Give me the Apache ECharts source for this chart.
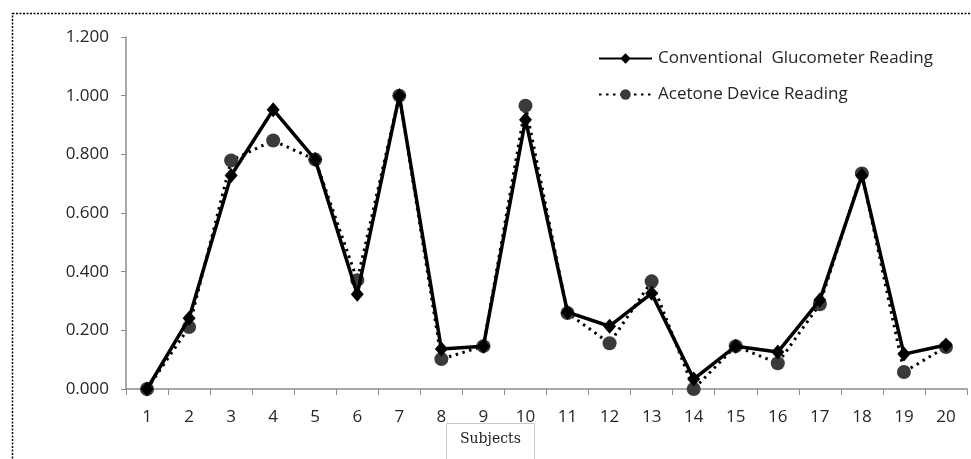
<!DOCTYPE html>
<html>
<head>
<meta charset="utf-8">
<script src="https://cdn.jsdelivr.net/npm/echarts@6/dist/echarts.min.js"></script>
<style>
html,body{margin:0;padding:0;background:#fff;}
#chart{width:971px;height:459px;}
</style>
</head>
<body>
<div id="chart"></div>
<script>
const categories = ['1','2','3','4','5','6','7','8','9','10','11','12','13','14','15','16','17','18','19','20'];
const conventional = [0.000,0.241,0.728,0.952,0.782,0.323,1.000,0.136,0.146,0.918,0.262,0.214,0.326,0.034,0.146,0.126,0.303,0.728,0.119,0.150];
const acetone = [0.000,0.211,0.779,0.847,0.782,0.371,1.000,0.102,0.146,0.966,0.259,0.156,0.367,0.000,0.146,0.088,0.289,0.735,0.058,0.143];
const yTicks = [0, 0.2, 0.4, 0.6, 0.8, 1.0, 1.2];
const seriesNames = ['Conventional  Glucometer Reading', 'Acetone Device Reading'];
const xAxisTitle = 'Subjects';

const font = 'Open Sans';
const chart = echarts.init(document.getElementById('chart'), null, {renderer:'canvas'});
chart.setOption({
  animation:false,
  backgroundColor:'#fff',
  title:{
    text:xAxisTitle,
    left:446, top:423,
    padding:[9,14,30,14],
    backgroundColor:'#fff',
    borderColor:'#c8c8c8',
    borderWidth:1,
    textStyle:{fontFamily:'DejaVu Serif', fontSize:14, fontWeight:'normal', color:'#222'}
  },
  graphic:[{
    type:'rect', shape:{x:12.5,y:13.5,width:1000,height:500},
    style:{fill:'none', stroke:'#000', lineWidth:1.5, lineDash:[2,1.5]},
    silent:true, z:-1
  }],
  legend:{
    data:[seriesNames[0], seriesNames[1]],
    orient:'vertical',
    left:593, top:45,
    itemWidth:53, itemHeight:13,
    itemGap:19,
    textStyle:{fontFamily:font, fontSize:17, color:'#262626', padding:[0,0,0,1]}
  },
  grid:{left:126, right:4, top:37, bottom:70},
  xAxis:{
    type:'category',
    data:categories,
    boundaryGap:true,
    axisLine:{lineStyle:{color:'#8c8c8c', width:1.5}},
    axisTick:{show:true, interval:0, length:6, lineStyle:{color:'#8c8c8c'}},
    axisLabel:{interval:0, margin:20, fontFamily:font, fontSize:17, color:'#262626'}
  },
  yAxis:{
    type:'value', min:0, max:1.2, interval:0.2,
    axisLine:{show:true, lineStyle:{color:'#8c8c8c', width:1.5}},
    axisTick:{show:true, length:5, lineStyle:{color:'#8c8c8c'}},
    splitLine:{show:false},
    axisLabel:{margin:17, fontFamily:font, fontSize:17, color:'#262626',
      formatter:v=>v.toFixed(3)}
  },
  series:[
    {
      name:seriesNames[1], type:'line', data:acetone,
      symbol:'circle', symbolSize:14,
      itemStyle:{color:'#3a3a3a'},
      lineStyle:{color:'#000', width:3, type:[2.5,4.5]},
      z:2
    },
    {
      name:seriesNames[0], type:'line', data:conventional,
      symbol:'diamond', symbolSize:[13,15],
      itemStyle:{color:'#000'},
      lineStyle:{color:'#000', width:3.5, type:'solid'},
      z:3
    }
  ]
});
</script>
</body>
</html>
